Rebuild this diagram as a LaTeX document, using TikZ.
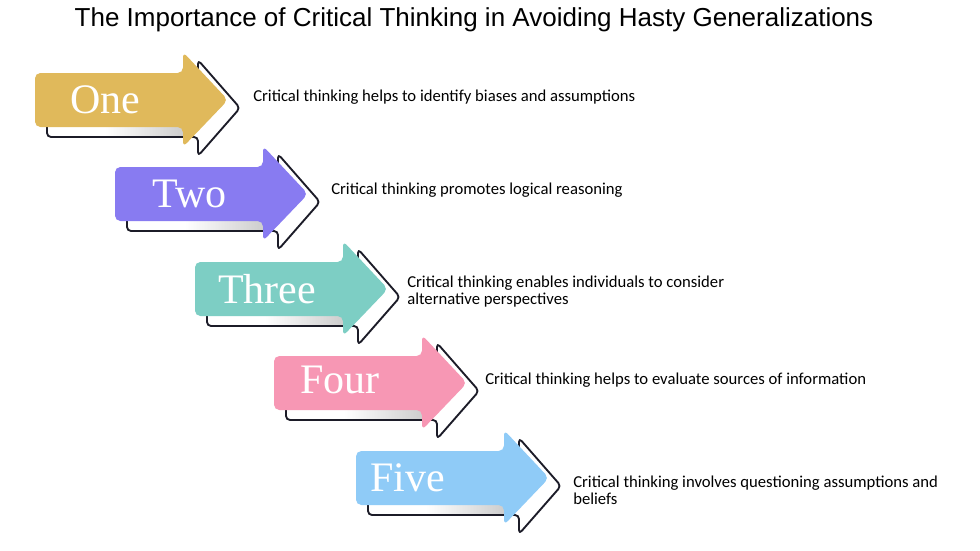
\documentclass[tikz,border=0pt]{standalone}
\usepackage{fontspec}
\setmainfont{Carlito}
\newfontfamily\titlefont{Liberation Sans}
\newfontfamily\numfont{Liberation Serif}
\definecolor{cOne}{HTML}{E0B95B}
\definecolor{cTwo}{HTML}{887BF1}
\definecolor{cThree}{HTML}{7DCEC4}
\definecolor{cFour}{HTML}{F797B4}
\definecolor{cFive}{HTML}{8FCBF7}
\definecolor{outc}{HTML}{1C1C28}
\tikzset{
  outl/.style={draw=outc, line width=1.4pt, fill=white, rounded corners=3, line join=round},
  arr/.style={rounded corners=4},
  numlab/.style={anchor=west, inner sep=0pt, text=white, font=\numfont\fontsize{31.5}{36}\selectfont},
  desc/.style={anchor=west, inner sep=0pt, align=left, font=\fontsize{12.5}{12.75}\selectfont},
}
\newcommand{\myarrow}[3]{%
  \begin{scope}[shift={(#1,#2)}]
    \draw[outl] (12,-19) -- (163,-19) -- (163,-40) -- (205,8) -- (163,56) -- (163,37) -- (12,37) -- cycle;
    \shade[left color=white, right color=black!22] (70,27) rectangle (158,35.5);
    \fill[#3, arr] (0,-27) -- (148,-27) -- (148,-48) -- (193,0) -- (148,47) -- (148,27) -- (0,27) -- cycle;
  \end{scope}}
\begin{document}
\begin{tikzpicture}[x=0.75pt, y=-0.75pt]
\useasboundingbox (0,0) rectangle (980,550);
\fill[white] (0,0) rectangle (980,550);
\node[font=\titlefont\fontsize{19.5}{23}\selectfont, inner sep=0pt] (title) at (474,20) {The Importance of Critical Thinking in Avoiding Hasty Generalizations};

\myarrow{35}{100}{cOne}
\myarrow{115}{194}{cTwo}
\myarrow{195}{289}{cThree}
\myarrow{274}{383}{cFour}
\myarrow{356}{478}{cFive}

\node[numlab] (n1) at (70,100) {One};
\node[numlab] (n2) at (152,194) {Two};
\node[numlab] (n3) at (218,289) {Three};
\node[numlab] (n4) at (300,380) {Four};
\node[numlab] (n5) at (370,478) {Five};

\node[desc] (d1) at (253,97) {Critical thinking helps to identify biases and assumptions};
\node[desc] (d2) at (331,190) {Critical thinking promotes logical reasoning};
\node[desc] (d3) at (407,292) {Critical thinking enables individuals to consider\\alternative perspectives};
\node[desc] (d4) at (485,380) {Critical thinking helps to evaluate sources of information};
\node[desc] (d5) at (573,490) {Critical thinking involves questioning assumptions and\\beliefs};
\end{tikzpicture}
\end{document}
